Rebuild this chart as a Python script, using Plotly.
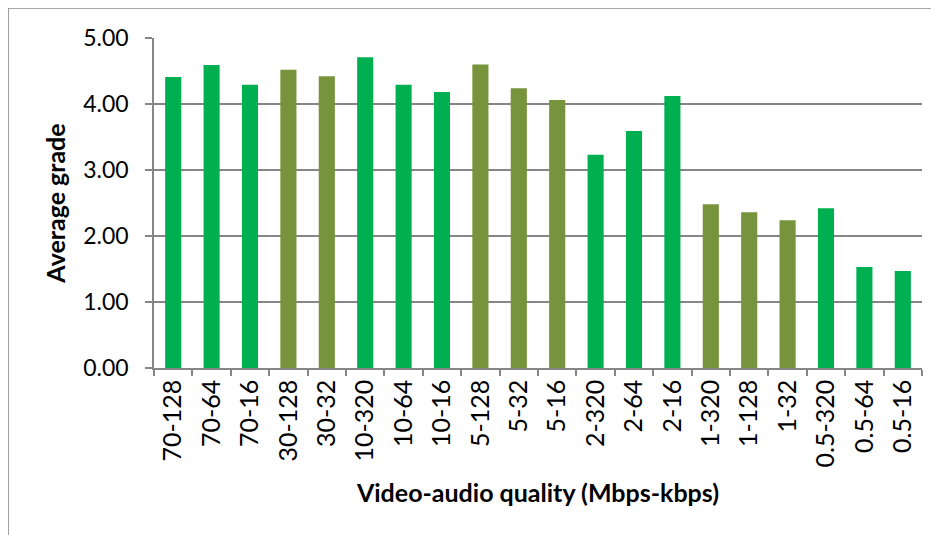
import plotly.graph_objects as go

# data
categories = ['70-128', '70-64', '70-16', '30-128', '30-32', '10-320', '10-64', '10-16',
              '5-128', '5-32', '5-16', '2-320', '2-64', '2-16', '1-320', '1-128', '1-32',
              '0.5-320', '0.5-64', '0.5-16']
grades = [4.41, 4.59, 4.29, 4.52, 4.42, 4.71, 4.29, 4.18,
          4.60, 4.24, 4.06, 3.23, 3.59, 4.12, 2.48, 2.36, 2.24,
          2.42, 1.53, 1.47]
# groups alternate between the two greens
groups = ['a', 'a', 'a', 'b', 'b', 'a', 'a', 'a',
          'b', 'b', 'b', 'a', 'a', 'a', 'b', 'b', 'b',
          'a', 'a', 'a']

palette = {'a': '#00B050', 'b': '#77933C'}
colors = [palette[g] for g in groups]

font = 'Lato, Open Sans, sans-serif'

fig = go.Figure(go.Bar(
    x=categories,
    y=grades,
    marker=dict(color=colors, line=dict(width=0)),
    width=0.42,
))

# page body adds 8px, so the figure is a bit smaller than the window
fig.update_layout(
    width=931, height=527,
    margin=dict(l=146, r=17, t=30, b=167),
    paper_bgcolor='white', plot_bgcolor='white',
    showlegend=False,
    font=dict(family=font, color='black'),
    shapes=[dict(type='rect', xref='paper', yref='paper',
                 x0=-0.19, x1=1.2, y0=-0.8, y1=1.091,
                 line=dict(color='#8C8C8C', width=1.5), layer='below')],
)

fig.update_xaxes(
    type='category',
    tickangle=-90,
    tickfont=dict(size=25),
    ticks='outside', tickson='boundaries', ticklen=6,
    tickcolor='#868686', tickwidth=1.5,
    showline=True, linecolor='#868686', linewidth=1.5,
    showgrid=False,
    title=dict(text='<b>Video-audio quality (Mbps-kbps)</b>', font=dict(size=25), standoff=18),
)

fig.update_yaxes(
    range=[0, 5],
    tickvals=[0, 1, 2, 3, 4, 5],
    tickformat='.2f',
    tickfont=dict(size=23),
    ticks='outside', ticklen=7, tickcolor='#868686', tickwidth=1.5,
    ticklabelstandoff=12,
    showline=True, linecolor='#868686', linewidth=1.5,
    showgrid=True, gridcolor='#868686', gridwidth=1.5,
    zeroline=False,
    title=dict(text='<b>Average grade</b>', font=dict(size=25), standoff=10),
)

fig.write_html('out.html')
